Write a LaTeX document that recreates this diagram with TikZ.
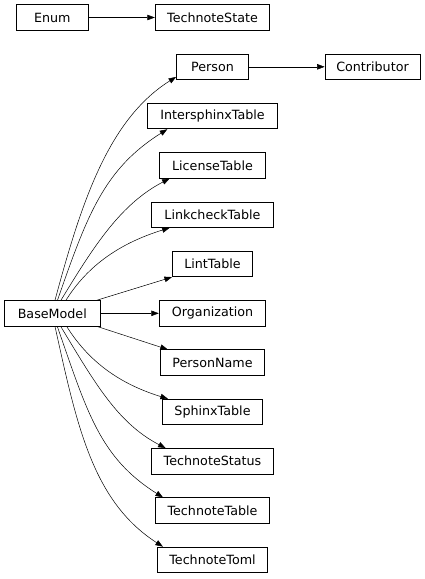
\documentclass[tikz,border=0pt]{standalone}
\usepackage{fontspec}
\setmainfont{DejaVu Sans}
\usetikzlibrary{arrows.meta}
\begin{document}
\begin{tikzpicture}[x=1pt,y=-1pt,
  cls/.style={draw=black, line width=0.75pt, minimum height=25.5pt, inner sep=0pt,
    font=\fontsize{12.7pt}{15pt}\selectfont},
  inh/.style={draw=black, line width=0.5pt, -{Triangle[length=7.5pt,width=5.5pt]}}]
\useasboundingbox (0,0) rectangle (425,579);
% left column
\node[cls, minimum width=72.4pt] (enum) at (52.3,17.5) {Enum};
\node[cls, minimum width=95.7pt] (bm) at (52.3,313.3) {BaseModel};
% middle column
\node[cls, minimum width=114.7pt] (tstate) at (212.5,17.5) {TechnoteState};
\node[cls, minimum width=72pt] (person) at (212.5,66.8) {Person};
\node[cls, minimum width=129.6pt] (isph) at (212.5,116.1) {IntersphinxTable};
\node[cls, minimum width=106.4pt] (lic) at (212.5,165.4) {LicenseTable};
\node[cls, minimum width=122pt] (lchk) at (212.5,214.7) {LinkcheckTable};
\node[cls, minimum width=80.3pt] (lint) at (212.5,264.0) {LintTable};
\node[cls, minimum width=106.7pt] (org) at (212.5,313.3) {Organization};
\node[cls, minimum width=104.7pt] (pname) at (212.5,362.6) {PersonName};
\node[cls, minimum width=100pt] (sphx) at (212.5,411.9) {SphinxTable};
\node[cls, minimum width=121.6pt] (tstatus) at (212.5,461.2) {TechnoteStatus};
\node[cls, minimum width=114.7pt] (ttable) at (212.5,510.5) {TechnoteTable};
\node[cls, minimum width=110.4pt] (ttoml) at (212.5,559.8) {TechnoteToml};
% right column
\node[cls, minimum width=95pt] (contrib) at (372.5,66.8) {Contributor};
% straight edges
\draw[inh] (enum.east) -- (tstate.west);
\draw[inh] (person.east) -- (contrib.west);
\draw[inh] (bm.east) -- (org.west);
\draw[inh] ([xshift=44.7pt]bm.north) -- (lint.south west);
\draw[inh] ([xshift=44.7pt]bm.south) -- ([xshift=8pt]pname.north west);
% curved edges, upwards
\draw[inh] ([xshift=2.7pt]bm.north) .. controls +(26,-96.5) and +(-68,42.5) .. ([yshift=3pt]person.south west);
\draw[inh] ([xshift=5.2pt]bm.north) .. controls +(29.7,-85) and +(-63.5,39.9) .. ([xshift=20pt]isph.south west);
\draw[inh] ([xshift=8.7pt]bm.north) .. controls +(33.7,-55.6) and +(-48.4,25.1) .. ([xshift=10.7pt]lic.south west);
\draw[inh] ([xshift=13.7pt]bm.north) .. controls +(25,-40) and +(-42,13) .. ([xshift=18.5pt]lchk.south west);
% curved edges, downwards
\draw[inh] ([xshift=14.4pt]bm.south) .. controls +(25,40) and +(-42,-13) .. ([xshift=5.8pt]sphx.north west);
\draw[inh] ([xshift=8.4pt]bm.south) .. controls +(33.7,55.6) and +(-48.4,-25.1) .. ([xshift=14.3pt]tstatus.north west);
\draw[inh] ([xshift=5pt]bm.south) .. controls +(29.7,85) and +(-63.5,-39.9) .. ([xshift=8.2pt]ttable.north west);
\draw[inh] ([xshift=2.7pt]bm.south) .. controls +(22,100) and +(-70,-45) .. ([xshift=6pt]ttoml.north west);
\end{tikzpicture}
\end{document}
